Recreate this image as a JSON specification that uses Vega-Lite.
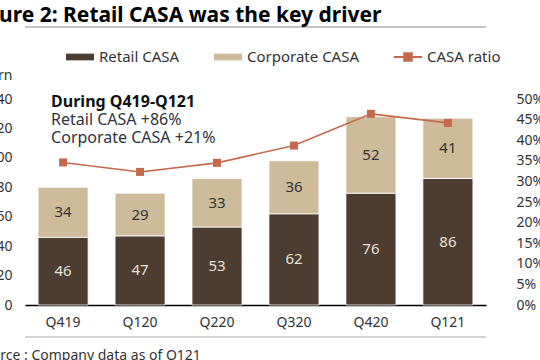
{
  "$schema": "https://vega.github.io/schema/vega-lite/v6.json",
  "width": 461,
  "height": 206,
  "autosize": {"type": "none"},
  "padding": {"left": 25, "top": 99, "right": 54, "bottom": 55},
  "background": "white",
  "config": {
    "view": {"stroke": null},
    "font": "Noto Sans",
    "axis": {"labelFont": "Noto Sans", "titleFont": "Noto Sans", "labelOverlap": false, "labelSeparation": 0},
    "axisY": {"labelOverlap": false},
    "text": {"font": "Noto Sans"}
  },
  "title": {
    "text": "Figure 2: Retail CASA was the key driver",
    "anchor": "start",
    "frame": "group",
    "fontSize": 21,
    "fontWeight": "bold",
    "color": "#000000",
    "font": "Noto Sans",
    "dx": -57,
    "dy": 0,
    "offset": 0
  },
  "datasets": {
    "bars": [
      {"q": "Q419", "series": "Retail CASA", "value": 46},
      {"q": "Q419", "series": "Corporate CASA", "value": 34},
      {"q": "Q120", "series": "Retail CASA", "value": 47},
      {"q": "Q120", "series": "Corporate CASA", "value": 29},
      {"q": "Q220", "series": "Retail CASA", "value": 53},
      {"q": "Q220", "series": "Corporate CASA", "value": 33},
      {"q": "Q320", "series": "Retail CASA", "value": 62},
      {"q": "Q320", "series": "Corporate CASA", "value": 36},
      {"q": "Q420", "series": "Retail CASA", "value": 76},
      {"q": "Q420", "series": "Corporate CASA", "value": 52},
      {"q": "Q121", "series": "Retail CASA", "value": 86},
      {"q": "Q121", "series": "Corporate CASA", "value": 41}
    ],
    "ratio": [
      {"q": "Q419", "ratio": 0.346},
      {"q": "Q120", "ratio": 0.323},
      {"q": "Q220", "ratio": 0.345},
      {"q": "Q320", "ratio": 0.387},
      {"q": "Q420", "ratio": 0.464},
      {"q": "Q121", "ratio": 0.442}
    ],
    "one": [{}]
  },
  "resolve": {"scale": {"y": "independent"}},
  "layer": [
    {
      "layer": [
        {
          "data": {"name": "bars"},
          "mark": {"type": "bar", "stroke": "#ffffff", "strokeWidth": 0.8},
          "encoding": {
            "x": {
              "field": "q", "type": "nominal", "sort": null,
              "scale": {"paddingInner": 0.35, "paddingOuter": 0.17},
              "axis": {
                "title": "Source : Company data as of Q121",
                "titleAnchor": "start", "titleAlign": "left",
                "titleX": -50, "titleY": 50, "titleBaseline": "middle",
                "titleFontSize": 14, "titleFontWeight": "normal", "titleColor": "#333333",
                "labelAngle": 0, "labelFontSize": 14, "labelColor": "#333333", "labelPadding": 10,
                "ticks": false, "domainColor": "#000000", "domainWidth": 1.5
              }
            },
            "y": {
              "field": "value", "type": "quantitative", "stack": "zero",
              "scale": {"domain": [0, 140], "nice": false, "zero": true},
              "axis": {
                "title": "IDR trn",
                "titleAngle": 0, "titleAlign": "right", "titleX": -13, "titleY": -24,
                "titleBaseline": "middle", "titleFontSize": 14, "titleFontWeight": "normal", "titleColor": "#333333",
                "values": [0, 20, 40, 60, 80, 100, 120, 140],
                "labelOverlap": false,
                "labelFontSize": 14, "labelColor": "#333333", "labelPadding": 13,
                "ticks": false, "domain": false, "grid": false
              }
            },
            "color": {
              "field": "series", "type": "nominal",
              "scale": {
                "domain": ["Retail CASA", "Corporate CASA", "CASA ratio"],
                "range": ["#4d3c30", "#cdbb9b", "#c4694b"]
              },
              "legend": {
                "title": null,
                "orient": "none",
                "direction": "horizontal",
                "legendX": 40,
                "legendY": -57,
                "padding": 0,
                "labelFontSize": 15,
                "labelColor": "#333333",
                "labelOffset": 4,
                "columnPadding": 30,
                "symbolSize": 784,
                "labelLimit": 300,
                "symbolType": {"expr": "datum.value === 'CASA ratio' ? 'M-1,0H1M-0.27,-0.27H0.27V0.27H-0.27Z' : 'M-1,-0.24H1V0.24H-1Z'"},
                "symbolStrokeColor": {"expr": "datum.value === 'CASA ratio' ? '#c4694b' : 'transparent'"},
                "symbolStrokeWidth": 2,
                "symbolOpacity": 1
              }
            },
            "order": {"field": "series", "sort": "descending"}
          }
        },
        {
          "data": {"name": "bars"},
          "transform": [
            {"stack": "value", "groupby": ["q"], "sort": [{"field": "series", "order": "descending"}], "as": ["v0", "v1"]},
            {"calculate": "(datum.v0 + datum.v1) / 2", "as": "mid"}
          ],
          "mark": {"type": "text", "fontSize": 15, "baseline": "middle"},
          "encoding": {
            "x": {"field": "q", "type": "nominal", "sort": null},
            "y": {
              "field": "mid", "type": "quantitative",
              "axis": {
                "title": "IDR trn",
                "titleAngle": 0, "titleAlign": "right", "titleX": -13, "titleY": -24,
                "titleBaseline": "middle", "titleFontSize": 14, "titleFontWeight": "normal", "titleColor": "#333333",
                "values": [0, 20, 40, 60, 80, 100, 120, 140],
                "labelOverlap": false,
                "labelFontSize": 14, "labelColor": "#333333", "labelPadding": 13,
                "ticks": false, "domain": false, "grid": false
              }
            },
            "text": {"field": "value"},
            "color": {
              "condition": {"test": "datum.series === 'Retail CASA'", "value": "#eae2d6"},
              "value": "#333333"
            }
          }
        },
        {
          "data": {"name": "one"},
          "mark": {"type": "text", "align": "left", "baseline": "middle", "fontSize": 16, "fontWeight": "bold", "color": "#111111", "dx": 13},
          "encoding": {
            "x": {"datum": "Q419", "type": "nominal", "bandPosition": 0},
            "y": {
              "datum": 137.8, "type": "quantitative",
              "axis": {
                "title": "IDR trn",
                "titleAngle": 0, "titleAlign": "right", "titleX": -13, "titleY": -24,
                "titleBaseline": "middle", "titleFontSize": 14, "titleFontWeight": "normal", "titleColor": "#333333",
                "values": [0, 20, 40, 60, 80, 100, 120, 140],
                "labelOverlap": false,
                "labelFontSize": 14, "labelColor": "#333333", "labelPadding": 13,
                "ticks": false, "domain": false, "grid": false
              }
            },
            "text": {"value": "During Q419-Q121"}
          }
        },
        {
          "data": {"name": "one"},
          "mark": {"type": "text", "align": "left", "baseline": "middle", "fontSize": 16, "color": "#2e3440", "dx": 13, "lineHeight": 18},
          "encoding": {
            "x": {"datum": "Q419", "type": "nominal", "bandPosition": 0},
            "y": {
              "datum": 125.6, "type": "quantitative",
              "axis": {
                "title": "IDR trn",
                "titleAngle": 0, "titleAlign": "right", "titleX": -13, "titleY": -24,
                "titleBaseline": "middle", "titleFontSize": 14, "titleFontWeight": "normal", "titleColor": "#333333",
                "values": [0, 20, 40, 60, 80, 100, 120, 140],
                "labelOverlap": false,
                "labelFontSize": 14, "labelColor": "#333333", "labelPadding": 13,
                "ticks": false, "domain": false, "grid": false
              }
            },
            "text": {"value": ["Retail CASA +86%", "Corporate CASA +21%"]}
          }
        },
        {
          "data": {"name": "one"},
          "mark": {"type": "rule", "color": "#c4c4c4", "strokeWidth": 2},
          "encoding": {
            "y": {
              "datum": 188.9, "type": "quantitative",
              "axis": {
                "title": "IDR trn",
                "titleAngle": 0, "titleAlign": "right", "titleX": -13, "titleY": -24,
                "titleBaseline": "middle", "titleFontSize": 14, "titleFontWeight": "normal", "titleColor": "#333333",
                "values": [0, 20, 40, 60, 80, 100, 120, 140],
                "labelOverlap": false,
                "labelFontSize": 14, "labelColor": "#333333", "labelPadding": 13,
                "ticks": false, "domain": false, "grid": false
              }
            }
          }
        },
        {
          "data": {"name": "one"},
          "mark": {"type": "rule", "color": "#d4d4d4", "strokeWidth": 2},
          "encoding": {
            "y": {
              "datum": -21.7, "type": "quantitative",
              "axis": {
                "title": "IDR trn",
                "titleAngle": 0, "titleAlign": "right", "titleX": -13, "titleY": -24,
                "titleBaseline": "middle", "titleFontSize": 14, "titleFontWeight": "normal", "titleColor": "#333333",
                "values": [0, 20, 40, 60, 80, 100, 120, 140],
                "labelOverlap": false,
                "labelFontSize": 14, "labelColor": "#333333", "labelPadding": 13,
                "ticks": false, "domain": false, "grid": false
              }
            }
          }
        }
      ]
    },
    {
      "data": {"name": "ratio"},
      "encoding": {
        "x": {"field": "q", "type": "nominal", "sort": null},
        "y": {
          "field": "ratio", "type": "quantitative",
          "scale": {"domain": [0, 0.5], "nice": false},
          "axis": {
            "orient": "right", "title": null, "format": ".0%",
            "values": [0, 0.05, 0.1, 0.15, 0.2, 0.25, 0.3, 0.35, 0.4, 0.45, 0.5],
            "labelOverlap": false,
            "labelFontSize": 14, "labelColor": "#333333", "labelPadding": 30,
            "ticks": false, "domain": false, "grid": false
          }
        }
      },
      "layer": [
        {
          "mark": {"type": "line", "strokeWidth": 1.6, "color": "#c4694b"}
        },
        {
          "mark": {"type": "point", "shape": "square", "filled": true, "size": 64, "opacity": 1, "color": "#c4694b"}
        }
      ]
    }
  ]
}
